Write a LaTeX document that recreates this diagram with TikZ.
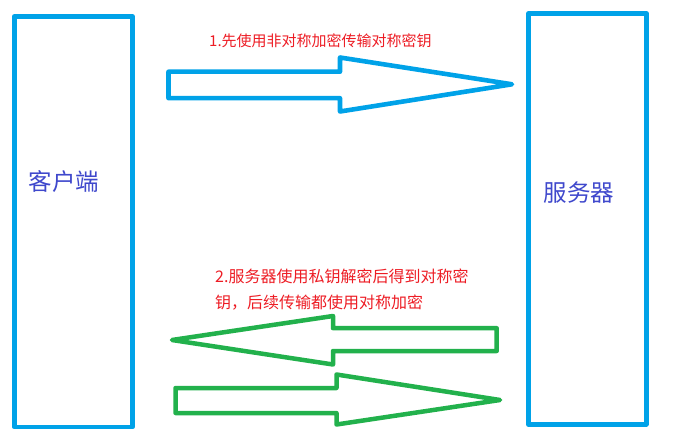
\documentclass[tikz,border=0pt]{standalone}
\usepackage{fontspec}
\newfontfamily\cjk{Noto Sans CJK SC}
\definecolor{paintblue}{RGB}{0,162,232}
\definecolor{paintgreen}{RGB}{34,177,76}
\definecolor{paintred}{RGB}{237,28,36}
\definecolor{labelblue}{RGB}{63,72,204}
\begin{document}
\begin{tikzpicture}[x=1pt, y=-1pt, line join=round,
    sidebox/.style = {draw=paintblue, line width=4.7pt, inner sep=0pt},
    sidelabel/.style = {text=labelblue, anchor=west, inner sep=0pt, font=\cjk\fontsize{23.5}{28}\selectfont},
    note/.style = {text=paintred, anchor=west, inner sep=0pt, align=left},
    bluearrow/.style = {draw=paintblue, line width=4.6pt},
    greenarrow/.style = {draw=paintgreen, line width=4.5pt}]
    \useasboundingbox (0,0) rectangle (687,443);
    % the two sides
    \node[sidebox, minimum width=118pt, minimum height=410.5pt] (client) at (73.3,221.75) {};
    \node[sidebox, minimum width=117.8pt, minimum height=410.8pt] (server) at (587.4,218.9) {};
    \node[sidelabel] (clientname) at (28.3,182) {客户端};
    \node[sidelabel] (servername) at (543.6,192.7) {服务器};
    % notes
    \node[note, font=\cjk\fontsize{15}{26}\selectfont] (step1) at (209,40.3) {1.先使用非对称加密传输对称密钥};
    \node[note, font=\cjk\fontsize{16}{26}\selectfont] (step2) at (215,290) {2.服务器使用私钥解密后得到对称密\\钥，后续传输都使用对称加密};
    % block arrows
    \draw[bluearrow] (168.5,71.7) -- (340,71.7) -- (340,57.5) -- (512,84.3)
        -- (340,111.5) -- (340,98.2) -- (168.5,98.2) -- cycle;
    \draw[greenarrow] (496.7,328.2) -- (333,328.2) -- (333,316) -- (172,340)
        -- (333,364.5) -- (333,351) -- (496.7,351) -- cycle;
    \draw[greenarrow] (175.5,388) -- (336.5,388) -- (336.5,374.5) -- (500,400)
        -- (336.5,424.5) -- (336.5,413) -- (175.5,413) -- cycle;
\end{tikzpicture}
\end{document}
